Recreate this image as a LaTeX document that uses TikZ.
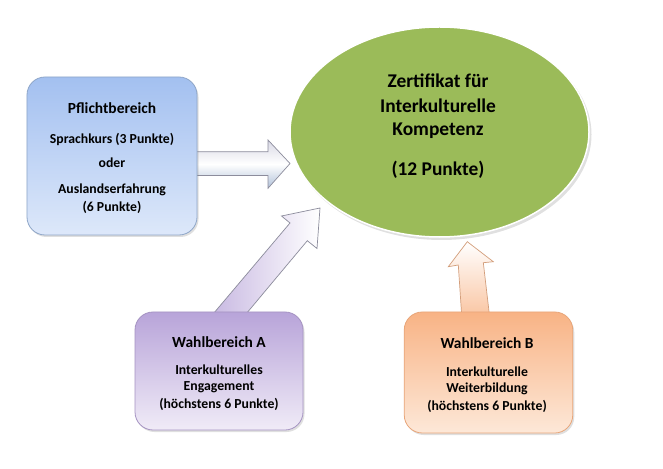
\documentclass[tikz,border=0pt]{standalone}
\usepackage{fontspec}
\setmainfont{Carlito}
\usetikzlibrary{shadows,shapes.geometric}
\definecolor{blueTop}{HTML}{A3C0F0}
\definecolor{blueBot}{HTML}{DDE8FA}
\definecolor{blueEdge}{HTML}{8EA6C8}
\definecolor{lilTop}{HTML}{B8A4D9}
\definecolor{lilBot}{HTML}{F0EBF7}
\definecolor{lilEdge}{HTML}{A593C2}
\definecolor{orTop}{HTML}{F8B385}
\definecolor{orBot}{HTML}{FDE8D8}
\definecolor{orEdge}{HTML}{E8A67A}
\definecolor{certGreen}{HTML}{9BBB59}
\definecolor{arrowEdge}{HTML}{8C8C9C}
\tikzset{
  boxshape/.style={rectangle, rounded corners=18bp, line width=0.8bp, inner sep=0pt,
    drop shadow={opacity=0.25, shadow xshift=1.5bp, shadow yshift=-2bp}},
  titletext/.style={font=\bfseries\fontsize{15.5}{17}\selectfont, inner sep=0pt},
  bodytext/.style={font=\bfseries\fontsize{13.8}{15}\selectfont, inner sep=0pt},
  certtext/.style={font=\bfseries\fontsize{19.5}{22}\selectfont, inner sep=0pt},
  blockarrow/.style={draw=arrowEdge, line width=0.7bp, line join=miter}
}
\begin{document}
\begin{tikzpicture}[x=1bp,y=-1bp]
\useasboundingbox (0,0) rectangle (663,469);
\fill[white] (0,0) rectangle (663,469);

% ---- certificate ellipse
\fill[black, opacity=0.12] (441.5,134.5) ellipse [x radius=150, y radius=105.5];
\node (cert) [ellipse, fill=certGreen, draw=white, line width=1.5bp,
  minimum width=299bp, minimum height=210bp, inner sep=0pt] at (439.5,132) {};
\node (c1) [certtext] at (438,81) {Zertifikat für};
\node (c2) [certtext] at (438,106) {Interkulturelle};
\node (c3) [certtext] at (438,131) {Kompetenz};
\node (c4) [certtext] at (438,170) {(12 Punkte)};

% ---- arrow coordinates
\coordinate (pA1) at (196,151.7);
\coordinate (pA2) at (268,151.7);
\coordinate (pA3) at (268,140);
\coordinate (pA4) at (290,163.5);
\coordinate (pA5) at (268,188.3);
\coordinate (pA6) at (268,175.5);
\coordinate (pA7) at (196,175.5);

\coordinate (wA1) at (208,320);
\coordinate (wA2) at (290,223);
\coordinate (wA3) at (281.5,216);
\coordinate (wA4) at (320,208);
\coordinate (wA5) at (317,248.5);
\coordinate (wA6) at (307.3,240.7);
\coordinate (wA7) at (241,320);

\coordinate (wB1) at (462,320);
\coordinate (wB2) at (458.3,265);
\coordinate (wB3) at (448.3,266.7);
\coordinate (wB4) at (467.3,241.7);
\coordinate (wB5) at (493.3,261.7);
\coordinate (wB6) at (483.3,262.7);
\coordinate (wB7) at (490,320);

% ---- block arrows (drawn under the boxes)
\draw[blockarrow, top color=blue!20!gray!25, bottom color=blueEdge!70, middle color=white]
  (pA1) -- (pA2) -- (pA3) -- (pA4) -- (pA5) -- (pA6) -- (pA7) -- cycle;
\draw[blockarrow, shading=axis, shading angle=-40, left color=lilTop!80, right color=white]
  (wA1) -- (wA2) -- (wA3) -- (wA4) -- (wA5) -- (wA6) -- (wA7) -- cycle;
\draw[blockarrow, draw=orEdge!80!gray, top color=white, bottom color=orTop!80]
  (wB1) -- (wB2) -- (wB3) -- (wB4) -- (wB5) -- (wB6) -- (wB7) -- cycle;

% ---- Pflichtbereich
\node (pflicht) [boxshape, draw=blueEdge, top color=blueTop, bottom color=blueBot,
  minimum width=170bp, minimum height=158bp] at (112,156) {};
\node (p1) [titletext] at (112,108) {Pflichtbereich};
\node (p2) [bodytext] at (112,139) {Sprachkurs (3 Punkte)};
\node (p3) [bodytext] at (112,163) {oder};
\node (p4) [bodytext] at (112,190) {Auslandserfahrung};
\node (p5) [bodytext] at (112,207) {(6 Punkte)};

% ---- Wahlbereich A
\node (wahlA) [boxshape, draw=lilEdge, top color=lilTop, bottom color=lilBot,
  minimum width=168bp, minimum height=118bp] at (219,371) {};
\node (a1) [titletext] at (219,342) {Wahlbereich A};
\node (a2) [bodytext] at (219,370) {Interkulturelles};
\node (a3) [bodytext] at (219,387) {Engagement};
\node (a4) [bodytext] at (219,404) {(höchstens 6 Punkte)};

% ---- Wahlbereich B
\node (wahlB) [boxshape, draw=orEdge, top color=orTop, bottom color=orBot,
  minimum width=168.5bp, minimum height=121bp] at (488.5,372.5) {};
\node (b1) [titletext] at (487,343) {Wahlbereich B};
\node (b2) [bodytext] at (487,372) {Interkulturelle};
\node (b3) [bodytext] at (487,389) {Weiterbildung};
\node (b4) [bodytext] at (487,406) {(höchstens 6 Punkte)};
\end{tikzpicture}
\end{document}
